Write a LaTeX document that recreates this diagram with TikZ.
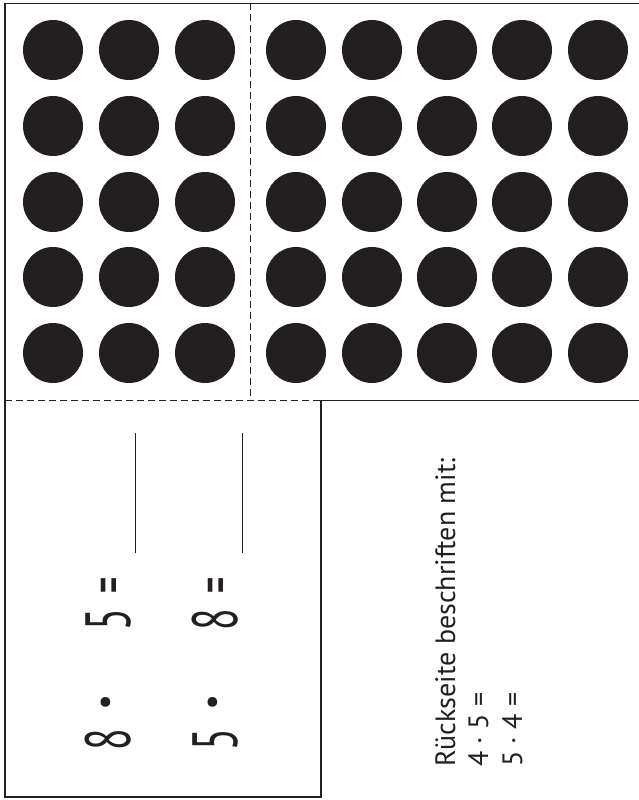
\documentclass[tikz,border=0pt]{standalone}
\usepackage{fontspec}
\setmainfont{PT Sans}
\usepackage{tikz}
\usetikzlibrary{positioning, calc}
\definecolor{ink}{HTML}{231F20}
\tikzset{
    frame/.style = {draw=ink, line width=1.6pt},
    fold/.style = {draw=ink, line width=0.9pt, dash pattern=on 7pt off 4pt},
    dot/.style = {fill=ink},
    blank/.style = {draw=ink, line width=0.8pt},
    bignum/.style = {rotate=90, inner sep=0pt, anchor=base, text=ink, font=\fontsize{64}{64}\selectfont},
    note/.style = {rotate=90, inner sep=0pt, anchor=base west, text=ink, font=\fontsize{28}{28}\selectfont}
}

\begin{document}
\begin{tikzpicture}[x=1pt, y=-1pt]
\useasboundingbox (0,0) rectangle (639,800);

% dots, 3 + 5 columns
\foreach \x in {53,129,205,296,372,447,522,598}
    \foreach \y in {50,126,202,277,353}
        \fill [dot] (\x,\y) circle (30);

% fold lines
\draw [fold] (250,3.5) -- (250,400.5);
\draw [fold] (5,400.5) -- (321,400.5);

% outline
\draw [frame] (639,3.5) -- (5,3.5) -- (5,797) -- (321,797) -- (321,400.5) -- (639,400.5);

% task card
\node (a1) [bignum] at (130,739.5) {\scalebox{0.62}[1]{8}};
\node (a2) [bignum] at (130,702) {\scalebox{1.3}{·}};
\node (a3) [bignum] at (130,619.5) {\scalebox{0.62}[1]{5}};
\node (a4) [bignum] at (130,585) {\scalebox{0.5}[1]{=}};
\node (b1) [bignum] at (237,739.5) {\scalebox{0.62}[1]{5}};
\node (b2) [bignum] at (237,702) {\scalebox{1.3}{·}};
\node (b3) [bignum] at (237,619.5) {\scalebox{0.62}[1]{8}};
\node (b4) [bignum] at (237,585) {\scalebox{0.5}[1]{=}};
\coordinate (la) at (135,433);
\coordinate (lb) at (242,433);
\draw [blank] (la) -- ++(0,120);
\draw [blank] (lb) -- ++(0,120);

% back side
\node (n1) [note] at (455,767) {Rückseite beschriften mit:};
\node (n2) [note] at (488,767) {4 · 5 =};
\node (n3) [note] at (522,767) {5 · 4 =};
\end{tikzpicture}
\end{document}
